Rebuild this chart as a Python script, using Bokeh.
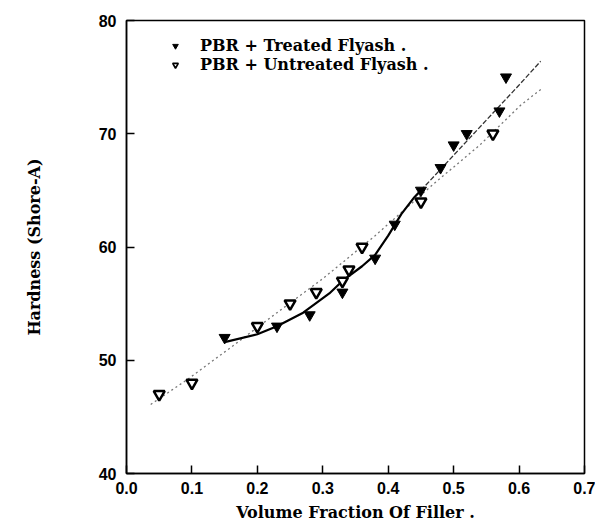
from bokeh.plotting import figure
from bokeh.models import Range1d, FixedTicker, Legend, LegendItem
from bokeh.embed import file_html
from bokeh.resources import INLINE

# Data
treated_x = [0.15, 0.23, 0.28, 0.33, 0.38, 0.41, 0.45, 0.48, 0.50, 0.52, 0.57, 0.58]
treated_y = [52, 53, 54, 56, 59, 62, 65, 67, 69, 70, 72, 75]

untreated_x = [0.05, 0.10, 0.20, 0.25, 0.29, 0.33, 0.34, 0.36, 0.45, 0.56]
untreated_y = [47, 48, 53, 55, 56, 57, 58, 60, 64, 70]

# fitted curves (as drawn)
treated_fit_lo_x = [0.15, 0.20, 0.23, 0.27, 0.31, 0.33, 0.36, 0.38, 0.40, 0.42, 0.44, 0.45]
treated_fit_lo_y = [51.6, 52.3, 53.0, 54.2, 55.9, 57.0, 58.3, 59.3, 61.0, 62.9, 64.4, 65.0]
treated_fit_hi_x = [0.45, 0.50, 0.55, 0.60, 0.633]
treated_fit_hi_y = [65.0, 68.1, 71.2, 74.3, 76.4]

untreated_fit_x = [0.037, 0.093, 0.154, 0.23, 0.30, 0.38, 0.47, 0.54, 0.602, 0.635]
untreated_fit_y = [46.1, 48.3, 50.9, 54.2, 57.2, 61.0, 65.6, 69.0, 72.5, 74.0]

x_ticks = [0.0, 0.1, 0.2, 0.3, 0.4, 0.5, 0.6, 0.7]
y_ticks = [40, 50, 60, 70, 80]

legend_labels = ["PBR + Treated Flyash .", "PBR + Untreated Flyash ."]

FONT = "DejaVu Serif"
NAN = float("nan")

p = figure(width=595, height=524, output_backend="svg", toolbar_location=None,
           x_range=Range1d(0, 0.7), y_range=Range1d(40, 80),
           min_border_left=126, min_border_right=11, min_border_top=20, min_border_bottom=51)

p.background_fill_color = "white"
p.border_fill_color = "white"
p.outline_line_color = "black"
p.outline_line_width = 1.5
p.xgrid.visible = False
p.ygrid.visible = False

for ax in (p.xaxis[0], p.yaxis[0]):
    ax.axis_line_color = "black"
    ax.axis_line_width = 1.5
    ax.major_tick_in = 8
    ax.major_tick_out = 0
    ax.major_tick_line_width = 1.5
    ax.minor_tick_in = 0
    ax.minor_tick_out = 0
    ax.major_label_text_font = "Liberation Sans"
    ax.major_label_text_font_size = "16px"
    ax.major_label_text_font_style = "bold"
    ax.major_label_text_color = "black"
    ax.axis_label_text_font = FONT
    ax.axis_label_text_font_size = "16px"
    ax.axis_label_text_font_style = "bold"
    ax.axis_label_text_color = "black"

p.xaxis.ticker = FixedTicker(ticks=x_ticks)
p.yaxis.ticker = FixedTicker(ticks=y_ticks)
p.xaxis.major_label_overrides = {t: f"{t:.1f}" for t in x_ticks}
p.xaxis.axis_label = "Volume Fraction Of Filler ."
p.yaxis.axis_label = "Hardness (Shore-A)"
p.xaxis.major_label_standoff = 8
p.xaxis.axis_label_standoff = 6
p.yaxis.major_label_standoff = 10
p.yaxis.axis_label_standoff = 52

# fit lines
p.line(untreated_fit_x, untreated_fit_y, line_color="#777777", line_width=1.3, line_dash="2 3")
p.line(treated_fit_lo_x, treated_fit_lo_y, line_color="black", line_width=2.2)
p.line(treated_fit_hi_x, treated_fit_hi_y, line_color="#333333", line_width=1.3, line_dash="5 2")

p.scatter(treated_x, treated_y, marker="inverted_triangle", size=11,
          fill_color="black", line_color="black", line_width=1)
p.scatter(untreated_x, untreated_y, marker="inverted_triangle", size=11,
          fill_color="white", line_color="black", line_width=2.5)

# legend proxies (not drawn in the plot, only give the legend its symbols)
lg_t = p.scatter([NAN], [NAN], marker="inverted_triangle", size=8,
                 fill_color="black", line_color="black", line_width=1)
lg_u = p.scatter([NAN], [NAN], marker="inverted_triangle", size=9,
                 fill_color="white", line_color="black", line_width=1.6)

legend = Legend(items=[LegendItem(label=legend_labels[0], renderers=[lg_t]),
                       LegendItem(label=legend_labels[1], renderers=[lg_u])],
                location=(42, 399))
legend.background_fill_alpha = 0
legend.border_line_alpha = 0
legend.padding = 0
legend.margin = 0
legend.spacing = 0
legend.glyph_width = 14
legend.glyph_height = 17
legend.label_height = 17
legend.label_standoff = 18
legend.label_text_font = FONT
legend.label_text_font_size = "16px"
legend.label_text_font_style = "bold"
legend.label_text_color = "black"
legend.label_text_baseline = "middle"
p.add_layout(legend, "center")

open("out.html", "w").write(file_html(p, INLINE))
